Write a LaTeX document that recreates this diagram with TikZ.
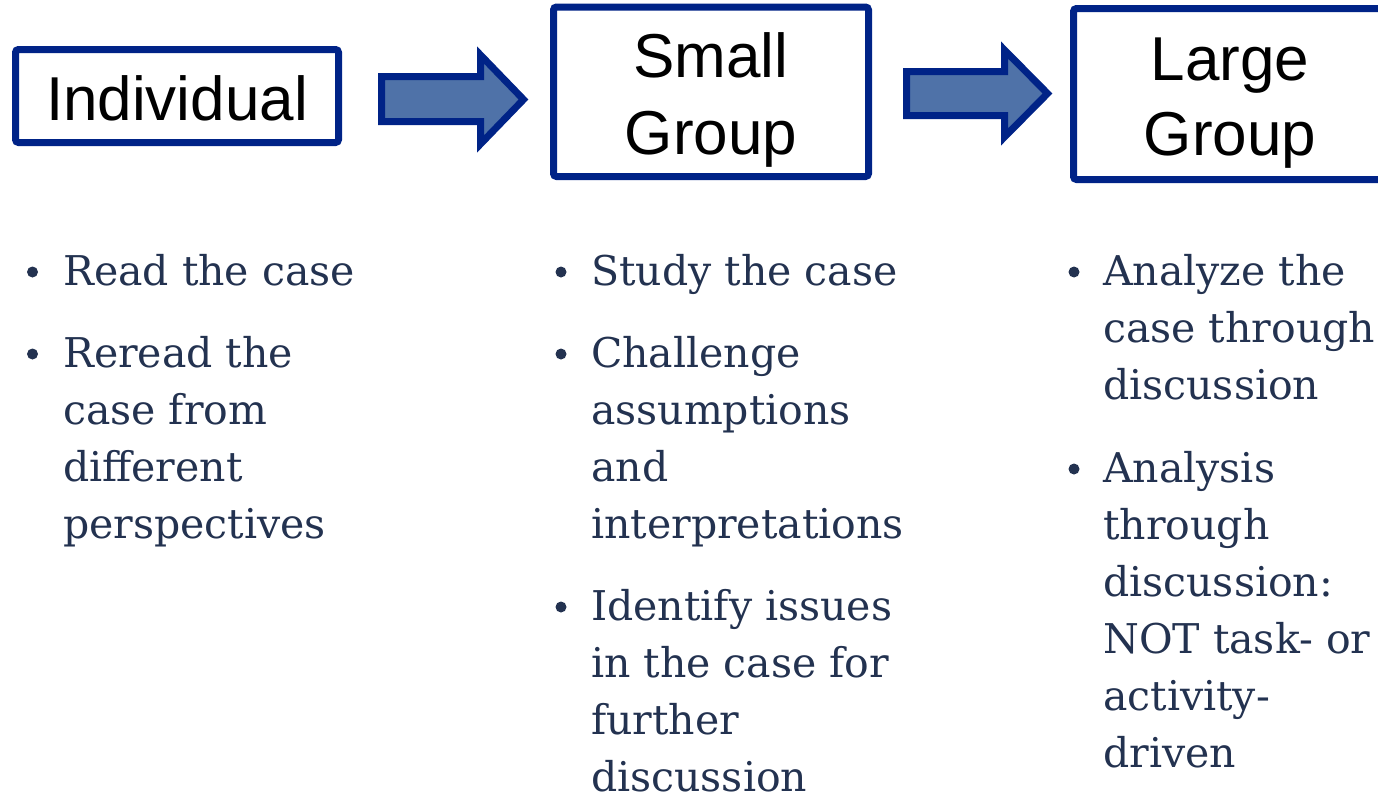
\documentclass[tikz,border=0pt]{standalone}
\usepackage{fontspec}
\setmainfont{DejaVu Serif}
\newfontfamily\headfont{Liberation Sans}
\definecolor{boxblue}{RGB}{0,35,135}
\definecolor{arrowfill}{RGB}{79,114,168}
\definecolor{bodycol}{RGB}{35,50,80}
\begin{document}
\begin{tikzpicture}[x=1pt,y=-1pt,
  stagebox/.style={draw=boxblue, line width=7pt, rounded corners=3pt, fill=white, inner sep=0pt},
  headtext/.style={font=\headfont\fontsize{62}{75}\selectfont, text=black, inner sep=0pt, anchor=base},
  bodytext/.style={font=\fontsize{41}{57}\selectfont, text=bodycol, inner sep=0pt, align=left, anchor=base west},
  blockarrow/.style={draw=boxblue, line width=7pt, fill=arrowfill, line join=miter},
  bulletdot/.style={fill=bodycol}
]
\useasboundingbox (0,0) rectangle (1378,798);
\clip (0,0) rectangle (1378,798);

% stage boxes
\node[stagebox, minimum width=323pt, minimum height=93pt] (ind) at (177,96) {};
\node[stagebox, minimum width=315pt, minimum height=169.5pt] (small) at (711,91.75) {};
\node[stagebox, minimum width=313pt, minimum height=171pt] (large) at (1230,94) {};

% headers
\node[headtext] (indt) at (177,120) {Individual};
\node[headtext] (smallt1) at (711,77) {Small};
\node[headtext] (smallt2) at (711,154) {Group};
\node[headtext] (larget1) at (1230,80) {Large};
\node[headtext] (larget2) at (1230,155) {Group};

% block arrows
\draw[blockarrow] (381.5,76.5) -- (480.5,76.5) -- (480.5,55) -- (523.5,99.5)
  -- (480.5,144) -- (480.5,121.5) -- (381.5,121.5) -- cycle;
\draw[blockarrow] (906.5,71.5) -- (1004.5,71.5) -- (1004.5,50) -- (1047.5,93.5)
  -- (1004.5,137) -- (1004.5,115.5) -- (906.5,115.5) -- cycle;

% bullet lists (anchored at the baseline of their last line)
\node[bodytext] (col1) at (63,538) {Read the case\\[25pt]Reread the\\case from\\different\\perspectives};
\node[bodytext] (col2) at (591,791) {Study the case\\[25pt]Challenge\\assumptions\\and\\interpretations\\[25pt]Identify issues\\in the case for\\further\\discussion};
\node[bodytext] (col3) at (1103,767) {Analyze the\\case through\\discussion\\[26pt]Analysis\\through\\discussion:\\NOT task- or\\activity-\\driven};

% bullets
\fill[bulletdot] (32.5,272) circle (5.5pt);
\fill[bulletdot] (32.5,354) circle (5.5pt);
\fill[bulletdot] (561,272) circle (5.5pt);
\fill[bulletdot] (561,354) circle (5.5pt);
\fill[bulletdot] (561,607) circle (5.5pt);
\fill[bulletdot] (1074,272) circle (5.5pt);
\fill[bulletdot] (1074,469) circle (5.5pt);
\end{tikzpicture}
\end{document}
